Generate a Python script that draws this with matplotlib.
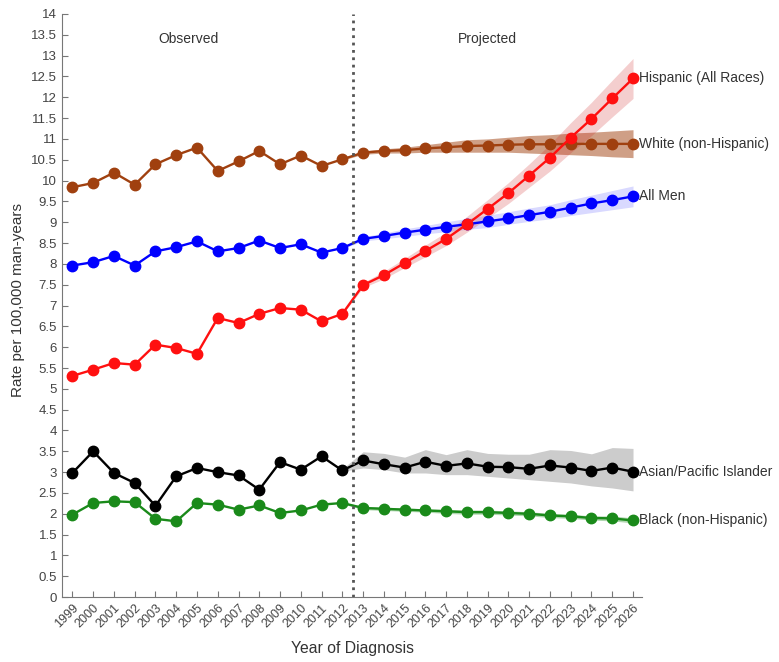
import matplotlib.pyplot as plt

plt.rcParams['font.family'] = ['Liberation Sans', 'DejaVu Sans']

# Years of diagnosis: observed 1999-2012, projected 2013-2026
years = list(range(1999, 2027))
band_years = list(range(2012, 2027))

# Rates per 100,000 man-years
hispanic = [5.31, 5.46, 5.62, 5.58, 6.06, 5.98, 5.84, 6.70, 6.58, 6.80, 6.94, 6.90, 6.62, 6.80,
            7.49, 7.73, 8.02, 8.31, 8.60, 8.95, 9.32, 9.70, 10.12, 10.55, 11.03, 11.48, 11.97, 12.45]
white = [9.84, 9.94, 10.19, 9.90, 10.39, 10.61, 10.79, 10.23, 10.46, 10.71, 10.39, 10.60, 10.35, 10.51,
         10.67, 10.71, 10.73, 10.77, 10.80, 10.83, 10.84, 10.86, 10.87, 10.87, 10.88, 10.88, 10.88, 10.88]
all_men = [7.96, 8.04, 8.19, 7.96, 8.30, 8.40, 8.54, 8.30, 8.38, 8.56, 8.38, 8.47, 8.27, 8.38,
           8.60, 8.67, 8.75, 8.82, 8.89, 8.95, 9.02, 9.09, 9.17, 9.25, 9.35, 9.45, 9.53, 9.62]
asian = [2.98, 3.50, 2.98, 2.74, 2.19, 2.90, 3.10, 3.00, 2.92, 2.58, 3.24, 3.06, 3.38, 3.04,
         3.28, 3.19, 3.11, 3.25, 3.15, 3.21, 3.13, 3.12, 3.08, 3.16, 3.11, 3.03, 3.11, 3.01]
black = [1.98, 2.26, 2.30, 2.28, 1.88, 1.82, 2.26, 2.22, 2.10, 2.20, 2.02, 2.08, 2.22, 2.26,
         2.14, 2.12, 2.10, 2.08, 2.06, 2.04, 2.04, 2.02, 2.00, 1.96, 1.94, 1.90, 1.89, 1.84]

# Projection intervals (2012-2026)
hisp_lo = [6.78, 7.43, 7.64, 7.91, 8.17, 8.44, 8.76, 9.10, 9.45, 9.84, 10.23, 10.67, 11.08, 11.53, 11.97]
hisp_hi = [6.82, 7.55, 7.82, 8.13, 8.45, 8.76, 9.14, 9.54, 9.95, 10.40, 10.87, 11.39, 11.88, 12.41, 12.93]
white_lo = [10.49, 10.63, 10.66, 10.66, 10.68, 10.68, 10.68, 10.68, 10.68, 10.66, 10.64, 10.62, 10.60, 10.57, 10.55]
white_hi = [10.53, 10.71, 10.76, 10.80, 10.86, 10.92, 10.98, 11.00, 11.04, 11.08, 11.10, 11.14, 11.16, 11.19, 11.22]
men_lo = [8.36, 8.55, 8.60, 8.66, 8.72, 8.77, 8.83, 8.87, 8.95, 9.02, 9.08, 9.16, 9.23, 9.30, 9.37]
men_hi = [8.40, 8.65, 8.74, 8.84, 8.92, 9.01, 9.09, 9.17, 9.25, 9.34, 9.42, 9.54, 9.65, 9.76, 9.87]
asian_lo = [3.02, 3.10, 3.06, 2.98, 2.98, 2.94, 2.94, 2.90, 2.86, 2.82, 2.78, 2.74, 2.67, 2.62, 2.55]
asian_hi = [3.08, 3.49, 3.45, 3.36, 3.54, 3.42, 3.54, 3.45, 3.43, 3.43, 3.54, 3.52, 3.44, 3.59, 3.57]
black_lo = [2.24, 2.10, 2.08, 2.06, 2.04, 2.01, 1.99, 1.99, 1.97, 1.95, 1.91, 1.89, 1.85, 1.83, 1.78]
black_hi = [2.28, 2.18, 2.16, 2.14, 2.12, 2.11, 2.09, 2.09, 2.07, 2.05, 2.01, 1.99, 1.95, 1.95, 1.90]

series = [
    ('Black (non-Hispanic)', black, black_lo, black_hi, '#1a8a1a', '#1a8a1a', 0.35),
    ('Asian/Pacific Islander', asian, asian_lo, asian_hi, '#000000', '#000000', 0.2),
    ('All Men', all_men, men_lo, men_hi, '#0000ff', '#0000ff', 0.15),
    ('White (non-Hispanic)', white, white_lo, white_hi, '#a0400f', '#a0400f', 0.5),
    ('Hispanic (All Races)', hispanic, hisp_lo, hisp_hi, '#ff1010', '#d02020', 0.22),
]

fig = plt.figure(figsize=(7.79, 6.62), dpi=100)
ax = fig.add_axes([0.0796, 0.098, 0.745, 0.881])

for name, vals, lo, hi, color, band_color, alpha in series:
    ax.fill_between(band_years, lo, hi, color=band_color, alpha=alpha, linewidth=0)
    ax.plot(years, vals, '-o', color=color, lw=1.7, markersize=7.5)
    ax.annotate(name, (years[-1], vals[-1]), xytext=(4, 0), textcoords='offset points',
                va='center', ha='left', fontsize=10, color='#333333', annotation_clip=False)

ax.axvline(2012.5, color='#555555', linestyle=':', lw=2)
ax.text(2004.6, 13.4, 'Observed', ha='center', va='center', fontsize=10, color='#333333')
ax.text(2019.0, 13.4, 'Projected', ha='center', va='center', fontsize=10, color='#333333')

ax.set_xlim(1998.5, 2026.45)
ax.set_ylim(0, 14)
ax.set_yticks([i * 0.5 for i in range(29)])
ax.set_yticklabels([f'{i * 0.5:g}' for i in range(29)], fontsize=9.5, color='#444444')
ax.set_xticks(years)
ax.set_xticklabels([str(y) for y in years], rotation=45, ha='right', va='top',
                   rotation_mode='anchor', fontsize=9, color='#444444')
ax.tick_params(direction='in', length=4, color='#777777', width=0.8)

for side in ['top', 'right']:
    ax.spines[side].set_visible(False)
for side in ['left', 'bottom']:
    ax.spines[side].set_color('#777777')
    ax.spines[side].set_linewidth(0.8)

ax.set_xlabel('Year of Diagnosis', fontsize=11.3, color='#333333')
ax.set_ylabel('Rate per 100,000 man-years', fontsize=11, color='#333333')
ax.xaxis.set_label_coords(0.5, -0.075)
ax.yaxis.set_label_coords(-0.064, 0.51)

fig.savefig('out.png', dpi=100)
